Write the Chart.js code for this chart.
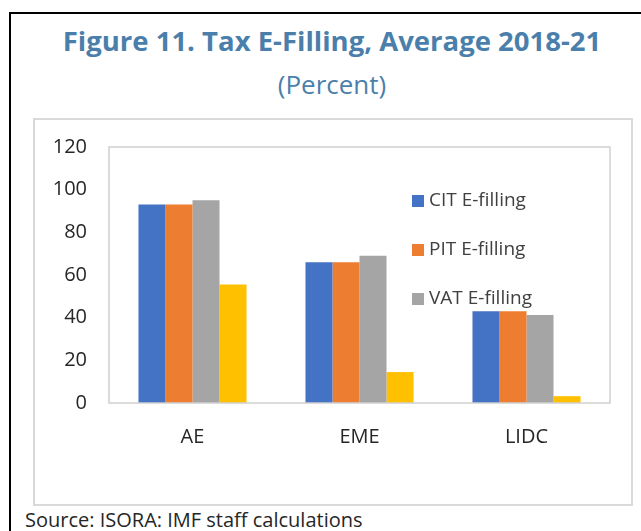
<!DOCTYPE html>
<html>
<head>
<meta charset="utf-8">
<script src="https://cdn.jsdelivr.net/npm/chart.js@4.4.0/dist/chart.umd.min.js"></script>
<style>
    body { margin: 0; background: #fff; font-family: "Open Sans", sans-serif; }
    .page { position: relative; width: 641px; height: 531px; overflow: hidden; }
    .outer { position: absolute; left: 9px; top: 12px; width: 700px; height: 600px;
             border-left: 2px solid #000; border-top: 2px solid #000; }
    .title { position: absolute; left: 0; width: 664px; top: 21px; text-align: center;
             color: #4b7fab; font-weight: 700; font-size: 27.5px; line-height: 40px; }
    .subtitle { position: absolute; left: 0; width: 664px; top: 66px; text-align: center;
                color: #4b7fab; font-size: 26px; line-height: 36px; }
    .frame { position: absolute; left: 33px; top: 118px; width: 596px; height: 384px;
             border: 2px solid #d9d9d9; }
    .chart-box { position: absolute; left: 35px; top: 120px; width: 594px; height: 382px; }
    .source { position: absolute; left: 25px; top: 507px; font-size: 20px; line-height: 26px;
              color: #262626; white-space: nowrap; }
</style>
</head>
<body>
<div class="page">
    <div class="outer"></div>
    <div class="title">Figure 11. Tax E-Filling, Average 2018-21</div>
    <div class="subtitle">(Percent)</div>
    <div class="frame"></div>
    <div class="chart-box"><canvas id="taxChart"></canvas></div>
    <div class="source">Source: ISORA: IMF staff calculations</div>
</div>

<script>
// Chart data
const categories = ['AE', 'EME', 'LIDC'];
const citValues = [93, 66, 43];
const pitValues = [93, 66, 43];
const vatValues = [95, 69, 41.3];
const otherValues = [55.6, 14.5, 3.2];
const yTicks = [0, 20, 40, 60, 80, 100, 120];

// Draw the plot-area box and the floating legend
const framePlugin = {
    id: 'frameAndLegend',
    afterDatasetsDraw(chart) {
        const { ctx, chartArea } = chart;
        ctx.save();
        ctx.strokeStyle = '#d0d0d0';
        ctx.lineWidth = 1.5;
        ctx.strokeRect(chartArea.left, chartArea.top,
            chartArea.right - chartArea.left, chartArea.bottom - chartArea.top);

        // legend (first three series only)
        ctx.font = '19px "Open Sans"';
        ctx.textBaseline = 'middle';
        chart.data.datasets.slice(0, 3).forEach((ds, i) => {
            const y = 81 + i * 49;
            ctx.fillStyle = ds.backgroundColor;
            ctx.fillRect(377, y - 6, 12, 12);
            ctx.fillStyle = '#404040';
            ctx.fillText(ds.label, 394, y);
        });
        ctx.restore();
    }
};

new Chart(document.getElementById('taxChart'), {
    type: 'bar',
    data: {
        labels: categories,
        datasets: [
            { label: 'CIT E-filling', data: citValues, backgroundColor: '#4472C4' },
            { label: 'PIT E-filling', data: pitValues, backgroundColor: '#ED7D31' },
            { label: 'VAT E-filling', data: vatValues, backgroundColor: '#A5A5A5' },
            { label: 'Other', data: otherValues, backgroundColor: '#FFC000' }
        ]
    },
    options: {
        responsive: true,
        maintainAspectRatio: false,
        animation: false,
        layout: { padding: { top: 27, right: 19, left: 0, bottom: 0 } },
        datasets: {
            bar: { categoryPercentage: 0.647, barPercentage: 1.0 }
        },
        scales: {
            x: {
                grid: { display: false, drawTicks: false },
                border: { display: false },
                ticks: { color: '#262626', font: { family: 'Open Sans', size: 20 }, padding: 22 },
                afterFit(scale) { scale.height = 99; }
            },
            y: {
                min: 0,
                max: 120,
                grid: { display: false, drawTicks: false },
                border: { display: false },
                afterBuildTicks(scale) { scale.ticks = yTicks.map(v => ({ value: v })); },
                ticks: { color: '#262626', font: { family: 'Open Sans', size: 20 }, padding: 22 },
                afterFit(scale) {
                    scale.width = 74;
                    scale.paddingTop = 0;
                    scale.paddingBottom = 0;
                }
            }
        },
        plugins: {
            legend: { display: false },
            tooltip: { enabled: false }
        }
    },
    plugins: [framePlugin]
});
</script>
</body>
</html>
